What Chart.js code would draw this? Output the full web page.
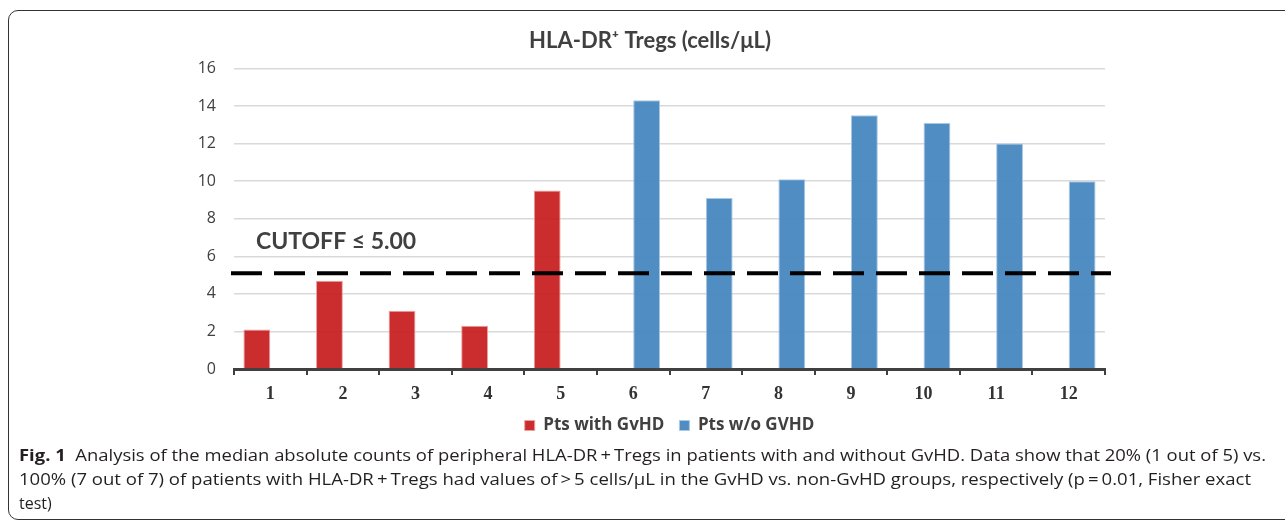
<!DOCTYPE html>
<html>
<head>
<meta charset="utf-8">
<script src="https://cdn.jsdelivr.net/npm/chart.js@4.4.1/dist/chart.umd.min.js"></script>
<style>
  html, body { margin: 0; padding: 0; background: #fff; }
  body { width: 1285px; height: 525px; position: relative; overflow: hidden; }
  #frame {
    position: absolute; left: 8px; top: 10px; width: 1300px; height: 508px;
    border: 1.5px solid #333; border-radius: 10px;
  }
  #chartBox { position: absolute; left: 0; top: 0; width: 1285px; height: 444px; }
  #caption {
    position: absolute; left: 19px; top: 443px; z-index: 2;
    font-family: "Open Sans", sans-serif; font-size: 16px; line-height: 24px; color: #231f20;
  }
  #caption .line { display: block; white-space: nowrap; transform-origin: 0 50%; }
</style>
</head>
<body>
<div id="frame"></div>
<div id="chartBox"><canvas id="chart"></canvas></div>
<div id="caption">
  <span class="line" data-w="1247"><b>Fig. 1</b>&nbsp;&nbsp;Analysis of the median absolute counts of peripheral HLA-DR&thinsp;+&thinsp;Tregs in patients with and without GvHD. Data show that 20% (1 out of 5) vs.</span>
  <span class="line" data-w="1232">100% (7 out of 7) of patients with HLA-DR&thinsp;+&thinsp;Tregs had values of&thinsp;&gt;&thinsp;5 cells/μL in the GvHD vs. non-GvHD groups, respectively (p&thinsp;=&thinsp;0.01, Fisher exact</span>
  <span class="line">test)</span>
</div>
<script>
// data
const categories = ["1", "2", "3", "4", "5", "6", "7", "8", "9", "10", "11", "12"];
const withGvhd = [2.1, 4.7, 3.1, 2.3, 9.5, null, null, null, null, null, null, null];
const withoutGvhd = [null, null, null, null, null, 14.3, 9.1, 10.1, 13.5, 13.1, 12.0, 10.0];
const yTicks = [0, 2, 4, 6, 8, 10, 12, 14, 16];
const cutoff = 5.1;
const cutoffLabel = "CUTOFF ≤ 5.00";
const cutoffLabelAt = 6.8;

// dashed cutoff line + its label
const cutoffPlugin = {
    id: 'cutoff',
    afterDatasetsDraw(chart) {
        const {ctx, chartArea, scales} = chart;
        const y = scales.y.getPixelForValue(cutoff);
        ctx.save();
        ctx.strokeStyle = '#000';
        ctx.lineWidth = 4;
        ctx.setLineDash([31, 12]);
        ctx.beginPath();
        ctx.moveTo(chartArea.left - 3, y);
        ctx.lineTo(chartArea.right + 6, y);
        ctx.stroke();
        ctx.setLineDash([]);
        ctx.fillStyle = '#404040';
        ctx.font = 'bold 23px Lato';
        ctx.textBaseline = 'middle';
        ctx.fillText(cutoffLabel, chartArea.left + 22, scales.y.getPixelForValue(cutoffLabelAt));
        ctx.restore();
    }
};

const ctx = document.getElementById('chart');
new Chart(ctx, {
    type: 'bar',
    data: {
        labels: categories,
        datasets: [
            {
                label: 'Pts with GvHD',
                data: withGvhd,
                backgroundColor: 'rgba(200,34,36,0.95)',
                borderColor: 'rgba(236,160,160,1)',
                borderWidth: 1,
                categoryPercentage: 0.74,
                barPercentage: 1,
            },
            {
                label: 'Pts w/o GVHD',
                data: withoutGvhd,
                backgroundColor: 'rgba(74,137,192,0.97)',
                borderColor: 'rgba(170,200,228,1)',
                borderWidth: 1,
                categoryPercentage: 0.74,
                barPercentage: 1,
            }
        ]
    },
    options: {
        responsive: true,
        maintainAspectRatio: false,
        animation: false,
        layout: { padding: { left: 195, right: 180, top: 0, bottom: 0 } },
        scales: {
            x: {
                offset: true,
                grid: {
                    display: true,
                    drawOnChartArea: false,
                    drawTicks: true,
                    tickLength: 6,
                    color: '#404040',
                    lineWidth: 2,
                    offset: true,
                },
                border: { display: true, color: '#404040', width: 3 },
                ticks: {
                    font: { family: 'Liberation Serif', weight: 'bold', size: 18, lineHeight: 1 },
                    color: '#333',
                    padding: 10,
                },
                // keep the axis box tight so the legend sits close below the labels
                afterFit(scale) { scale.height = 33; },
            },
            y: {
                min: 0,
                max: 16,
                afterBuildTicks(scale) { scale.ticks = yTicks.map(v => ({ value: v })); },
                ticks: {
                    font: { family: 'Open Sans', size: 16 },
                    color: '#404040',
                    padding: 18,
                },
                grid: { color: '#d9d9d9', lineWidth: 1.5, drawTicks: false },
                border: { display: false },
                afterFit(scale) { scale.width = 39; },
            },
        },
        plugins: {
            title: {
                display: true,
                text: 'HLA-DR⁺ Tregs (cells/μL)',
                color: '#404040',
                font: { family: 'Lato', weight: 'bold', size: 22 },
                padding: { top: 28, bottom: 14 },
            },
            legend: {
                position: 'bottom',
                fullSize: false,
                labels: {
                    boxWidth: 10,
                    boxHeight: 10,
                    padding: 15,
                    color: '#404040',
                    font: { family: 'Open Sans', weight: 'bold', size: 17 },
                },
            },
            tooltip: { enabled: false },
        },
    },
    plugins: [cutoffPlugin],
});

// stretch caption lines to the widths seen in the figure
document.querySelectorAll('#caption .line[data-w]').forEach(el => {
    el.style.display = 'inline-block';
    const w = el.getBoundingClientRect().width;
    el.style.transform = 'scaleX(' + (Number(el.dataset.w) / w) + ')';
    el.style.display = 'block';
});
</script>
</body>
</html>
